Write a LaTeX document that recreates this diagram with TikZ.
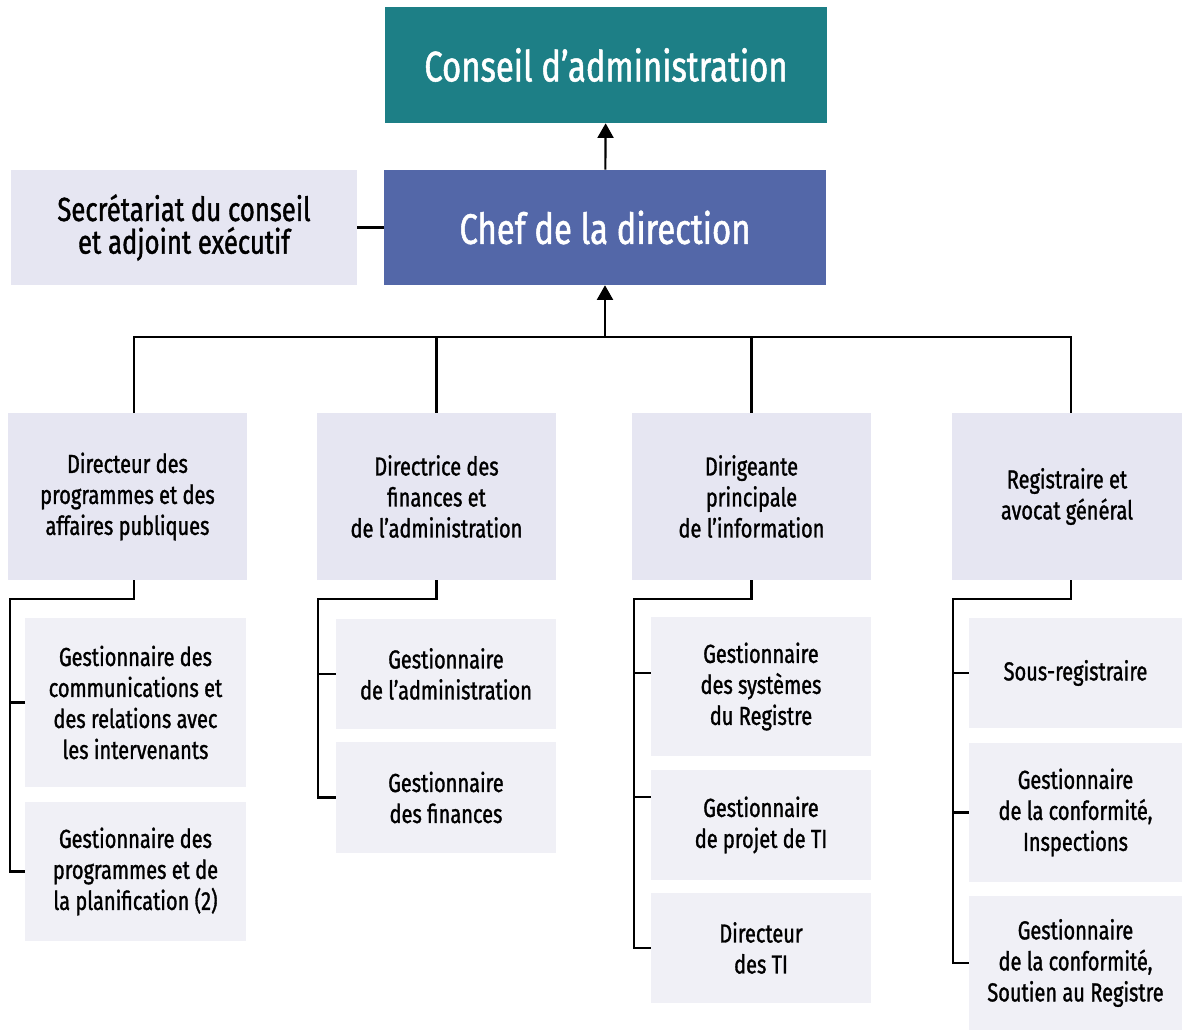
\documentclass[tikz,border=0pt]{standalone}
\usepackage{fontspec}
\setmainfont{Fira Sans}[FakeStretch=0.77, FakeBold=1.2]
\usetikzlibrary{arrows.meta}

\definecolor{conseilteal}{HTML}{1D7F86}
\definecolor{chefblue}{HTML}{5367A8}
\definecolor{dirfill}{HTML}{E6E6F2}
\definecolor{gestfill}{HTML}{F0F0F6}

\tikzset{
  topbox/.style={fill=conseilteal, text=white, minimum width=331.5pt, minimum height=87pt, font=\fontsize{32}{38}\selectfont},
  chefbox/.style={fill=chefblue, text=white, minimum width=331.5pt, minimum height=86.25pt, font=\fontsize{32}{38}\selectfont},
  secbox/.style={fill=dirfill, minimum width=259.5pt, minimum height=86.25pt, align=center, font=\fontsize{25}{24.5}\selectfont},
  dirbox/.style={fill=dirfill, minimum width=179.25pt, minimum height=125.25pt, align=center, font=\fontsize{19.5}{23.25}\selectfont},
  gestbox/.style={fill=gestfill, minimum width=165pt, align=center, font=\fontsize{19.5}{23.25}\selectfont},
  link/.style={line width=1.6pt, black},
  uparrow/.style={link, -{Triangle[width=12pt,length=11pt]}}
}

\begin{document}
\begin{tikzpicture}[x=0.75pt,y=0.75pt,yscale=-1,xscale=1]
  \useasboundingbox (0,0) rectangle (1182,1030);

  % top of the chart
  \node[topbox] (conseil) at (606,65) {Conseil d’administration};
  \node[chefbox] (chef) at (605,227.5) {Chef de la direction};
  \node[secbox] (secr) at (184,227.5) {Secrétariat du conseil\\et adjoint exécutif};

  \draw[link] (secr) -- (chef);
  \draw[uparrow] (chef) -- (conseil);

  % directors
  \node[dirbox] (dA) at (127.5,496.5) {Directeur des\\programmes et des\\affaires publiques};
  \node[dirbox] (dB) at (436.5,496.5) {Directrice des\\finances et\\de l’administration};
  \node[dirbox] (dC) at (751.5,496.5) {Dirigeante\\principale\\de l’information};
  \node[dirbox, minimum width=172.5pt] (dD) at (1067,496.5) {Registraire et\\avocat général};

  \coordinate (bus) at (605,337);
  \coordinate (tA) at ([xshift=4.9pt]dA.north);
  \coordinate (tD) at ([xshift=3pt]dD.north);
  \draw[uparrow] (bus) -- (chef);
  \draw[link] (tA) -- (tA |- bus) -- (tD |- bus) -- (tD);
  \draw[link] (dB.north |- bus) -- (dB.north);
  \draw[link] (dC.north |- bus) -- (dC.north);

  % managers
  \node[gestbox, minimum width=165.75pt, minimum height=126.75pt] (a1) at (135.5,702.5) {Gestionnaire des\\communications et\\des relations avec\\les intervenants};
  \node[gestbox, minimum width=165.75pt, minimum height=104.25pt] (a2) at (135.5,871.5) {Gestionnaire des\\programmes et de\\la planification (2)};

  \node[gestbox, minimum height=82.5pt] (b1) at (446,674) {Gestionnaire\\de l’administration};
  \node[gestbox, minimum height=83.25pt] (b2) at (446,797.5) {Gestionnaire\\des finances};

  \node[gestbox, minimum height=104.25pt] (c1) at (761,686.5) {Gestionnaire\\des systèmes\\du Registre};
  \node[gestbox, minimum height=82.5pt] (c2) at (761,825) {Gestionnaire\\de projet de TI};
  \node[gestbox, minimum height=82.5pt] (c3) at (761,948) {Directeur\\des TI};

  \node[gestbox, minimum width=159.75pt, minimum height=82.5pt] (d1) at (1075.5,673) {Sous-registraire};
  \node[gestbox, minimum width=159.75pt, minimum height=104.25pt] (d2) at (1075.5,812.5) {Gestionnaire\\de la conformité,\\Inspections};
  \node[gestbox, minimum width=159.75pt, minimum height=100.5pt] (d3) at (1075.5,963) {Gestionnaire\\de la conformité,\\Soutien au Registre};

  % branches
  \coordinate (jA) at (10,599);
  \coordinate (jB) at (318,599);
  \coordinate (jC) at (634,599);
  \coordinate (jD) at (953,599);
  \coordinate (c1t) at ([yshift=-10pt]c1.west);
  \coordinate (c2t) at ([yshift=-21pt]c2.west);

  \draw[link] ([xshift=4.9pt]dA.south) |- (jA) |- (a2.west);
  \draw[link] (jA |- a1.west) -- (a1.west);

  \draw[link] (dB.south) |- (jB) |- (b2.west);
  \draw[link] (jB |- b1.west) -- (b1.west);

  \draw[link] (dC.south) |- (jC) |- (c3.west);
  \draw[link] (jC |- c1t) -- (c1t);
  \draw[link] (jC |- c2t) -- (c2t);

  \draw[link] ([xshift=3pt]dD.south) |- (jD) |- (d3.west);
  \draw[link] (jD |- d1.west) -- (d1.west);
  \draw[link] (jD |- d2.west) -- (d2.west);
\end{tikzpicture}
\end{document}
